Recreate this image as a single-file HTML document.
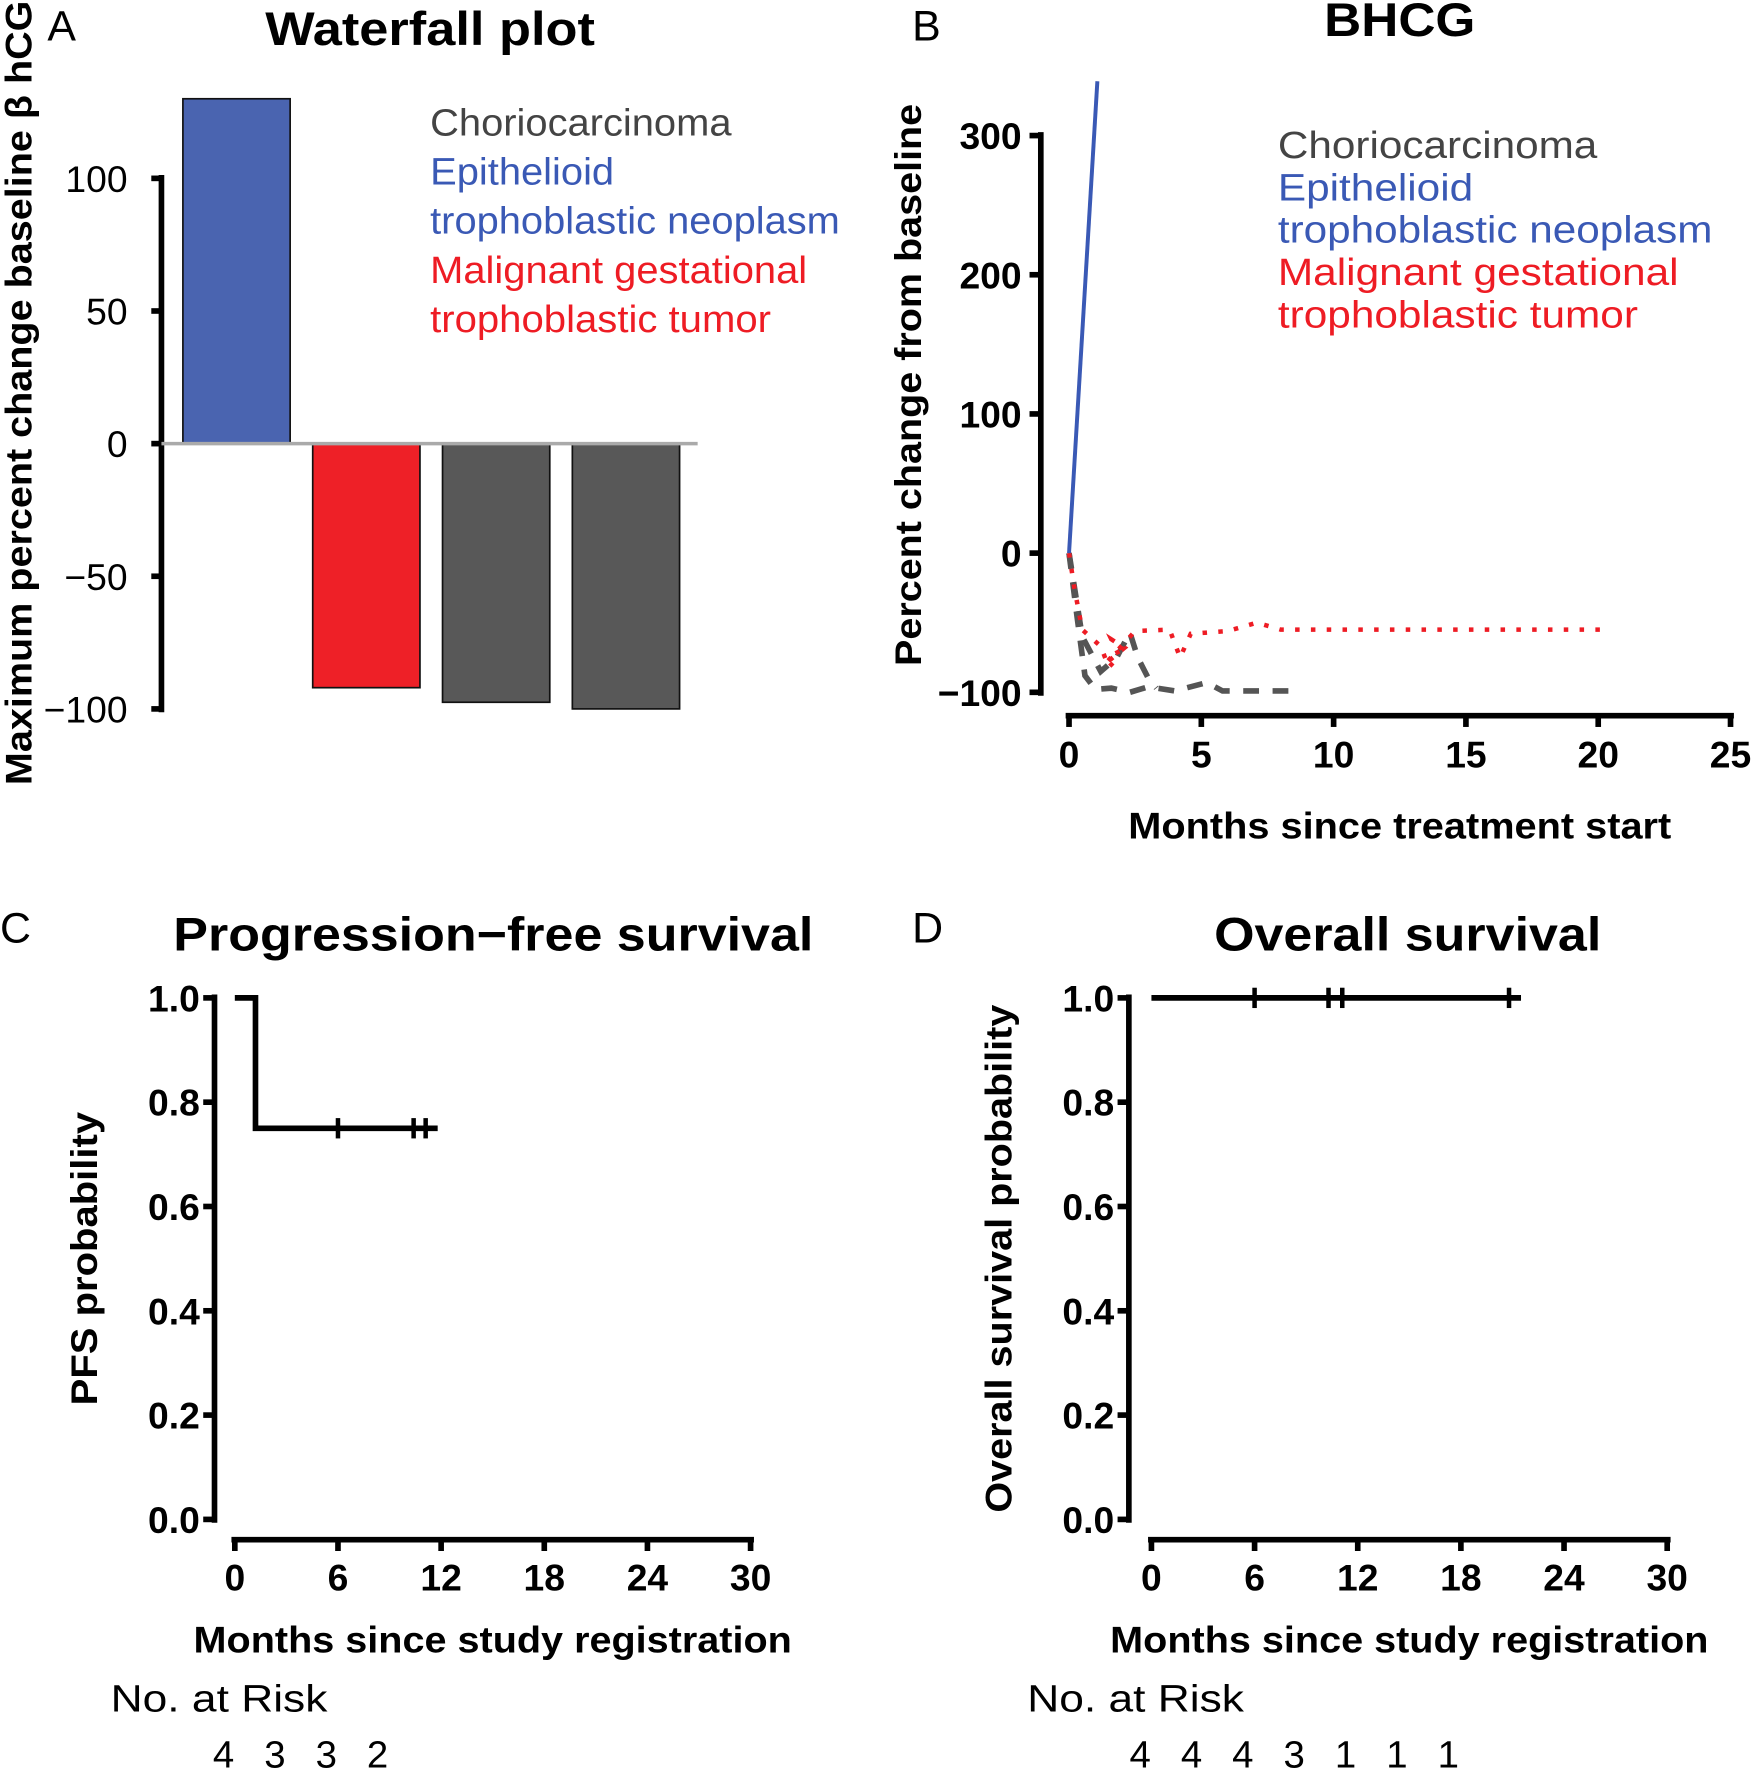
<!DOCTYPE html>
<html><head><meta charset="utf-8"><style>
html,body{margin:0;padding:0;background:#fff}
svg{display:block}
text{font-family:"Liberation Sans",Arial,sans-serif}
.b{font-weight:bold}
</style></head><body>
<svg id="fig" width="1752" height="1770" viewBox="0 0 1552 1568" xmlns="http://www.w3.org/2000/svg">
<g id="pa"></g>
<g id="pb"></g>
<g id="pc"></g>
<g id="pd"></g>
</svg>
<script>
// ---- Panel A data
const waterfallCategories = ["ETT", "MGTT", "Chorio 1", "Chorio 2"];
const waterfallValues = [130, -92, -97.5, -100];
const waterfallColors = ["#4a64b0", "#ee2027", "#585858", "#585858"];
const waterfallTicks = [100, 50, 0, -50, -100];
// ---- Panel B data
const bhcgTicksY = [300, 200, 100, 0, -100];
const bhcgTicksX = [0, 5, 10, 15, 20, 25];
const ettMonths = [0, 1.07];
const ettValues = [0, 339];
const mgttMonths = [0, 0.2, 0.5, 1.2, 1.5, 1.9, 1.6, 2.1, 1.35, 2.5, 3.8, 4.2, 4.6, 6.0, 7.1, 8.0, 20.3];
const mgttValues = [0, -25, -55, -67, -82, -74, -62, -68, -80, -56, -55, -75, -58, -56, -50, -55, -55];
const chorio1Months = [0, 0.3, 0.6, 1.0, 1.6, 2.3, 3.0, 4.0, 5.2, 5.8, 8.6];
const chorio1Values = [0, -45, -88, -98, -97, -100, -96, -99, -93, -99, -99];
const chorio2Months = [0, 0.5, 1.2, 1.8, 2.3, 2.6, 3.0, 3.3];
const chorio2Values = [0, -60, -85, -75, -57, -75, -90, -97];
// ---- Panel C/D data
const kmTicksX = [0, 6, 12, 18, 24, 30];
const kmTicksY = [1.0, 0.8, 0.6, 0.4, 0.2, 0.0];
const pfsTimes = [0, 1.2, 11.8];
const pfsSurv = [1.0, 0.75, 0.75];
const pfsCensor = [6, 10.4, 11.1];
const pfsRisk = [4, 3, 3, 2];
const osTimes = [0, 21.5];
const osSurv = [1.0, 1.0];
const osCensor = [6, 10.3, 11.1, 20.8];
const osRisk = [4, 4, 4, 3, 1, 1, 1];

const NS = "http://www.w3.org/2000/svg";
function mk(parent, tag, attrs, txt) {
  const e = document.createElementNS(NS, tag);
  for (const k in attrs) e.setAttribute(k, attrs[k]);
  if (txt !== undefined) e.textContent = txt;
  parent.appendChild(e);
  return e;
}
function fit(e, len){ e.setAttribute('textLength', len); e.setAttribute('lengthAdjust','spacingAndGlyphs'); }
function fmt(v){return v<0?"\u2212"+(-v):String(v);}

// ===== Panel A
(function(){
  const g = document.getElementById('pa');
  const ya = v => 393 - v * 2.35;
  let t;
  t = mk(g,'text',{x:42,y:36,'font-size':38},'A');
   
  t = mk(g,'text',{x:381,y:40,'font-size':42,'text-anchor':'middle',class:'b'},'Waterfall plot');
  fit(t,292);
   
  t = mk(g,'text',{x:0,y:0,'font-size':33,'text-anchor':'middle',class:'b',transform:'translate(28,348) rotate(-90)'},'Maximum percent change baseline \u03b2 hCG');
  fit(t,695);
   
  let ax = mk(g,'line',{x1:143,y1:ya(100)-3,x2:143,y2:ya(-100)+3,stroke:'#000','stroke-width':5});
   
  waterfallTicks.forEach(v=>{
    const l = mk(g,'line',{x1:134,y1:ya(v),x2:143,y2:ya(v),stroke:'#000','stroke-width':5});
     
    const tt = mk(g,'text',{x:113,y:ya(v)+12,'font-size':33,'text-anchor':'end'},fmt(v));
     
  });
  waterfallValues.forEach((v,i)=>{
    const x = 162 + i*115;
    const y0 = Math.min(ya(0), ya(v)), h = Math.abs(ya(v)-ya(0));
    const r = mk(g,'rect',{x:x,y:y0,width:95,height:h,fill:waterfallColors[i],stroke:'#111','stroke-width':1.5});
     
  });
  const z = mk(g,'line',{x1:143,y1:ya(0),x2:618,y2:ya(0),stroke:'#aaa','stroke-width':3});
   
  const leg = [["Choriocarcinoma","#444",267],["Epithelioid","#3a59b5",163],["trophoblastic neoplasm","#3a59b5",363],["Malignant gestational","#ee1c24",334],["trophoblastic tumor","#ee1c24",302]];
  leg.forEach((l,i)=>{
    const tt = mk(g,'text',{x:381,y:120+i*43.5,'font-size':34,fill:l[1]},l[0]);
    fit(tt,l[2]);
     
  });
})();

// ===== Panel B
(function(){
  const g = document.getElementById('pb');
  const xs = m => 947 + m*23.44, ys = v => 490 - v*1.233;
  let t;
  t = mk(g,'text',{x:808,y:36,'font-size':38},'B');
   
  t = mk(g,'text',{x:1240,y:32,'font-size':42,'text-anchor':'middle',class:'b'},'BHCG');
  fit(t,134);
   
  t = mk(g,'text',{x:0,y:0,'font-size':33,'text-anchor':'middle',class:'b',transform:'translate(816,341) rotate(-90)'},'Percent change from baseline');
  fit(t,498);
   
  t = mk(g,'text',{x:1240,y:743,'font-size':33,'text-anchor':'middle',class:'b'},'Months since treatment start');
  fit(t,481);
   
  let a = mk(g,'line',{x1:922,y1:ys(300)-3,x2:922,y2:ys(-100)+3,stroke:'#000','stroke-width':5});
   
  bhcgTicksY.forEach(v=>{
    const l = mk(g,'line',{x1:912,y1:ys(v),x2:922,y2:ys(v),stroke:'#000','stroke-width':5});
     
    const tt = mk(g,'text',{x:905,y:ys(v)+12,'font-size':33,'text-anchor':'end',class:'b'},fmt(v));
     
  });
  a = mk(g,'line',{x1:xs(0)-3,y1:634,x2:xs(25)+3,y2:634,stroke:'#000','stroke-width':5});
   
  bhcgTicksX.forEach(v=>{
    const l = mk(g,'line',{x1:xs(v),y1:634,x2:xs(v),y2:644,stroke:'#000','stroke-width':5});
     
    const tt = mk(g,'text',{x:xs(v),y:680,'font-size':33,'text-anchor':'middle',class:'b'},String(v));
     
  });
  function series(mx, vy, attrs, name){
    const d = mx.map((m,i)=>(i?'L':'M')+xs(m).toFixed(1)+','+ys(vy[i]).toFixed(1)).join(' ');
    const p = mk(g,'path',Object.assign({d:d,fill:'none'},attrs));
     
  }
  series(chorio1Months, chorio1Values, {stroke:'#555','stroke-width':5,'stroke-dasharray':'14,12'}, 'line-chorio-1');
  series(chorio2Months, chorio2Values, {stroke:'#555','stroke-width':5,'stroke-dasharray':'14,12'}, 'line-chorio-2');
  series(mgttMonths, mgttValues, {stroke:'#ee1c24','stroke-width':4,'stroke-dasharray':'4,10'}, 'line-mgtt');
  series(ettMonths, ettValues, {stroke:'#3a59b5','stroke-width':3.5}, 'line-ett');
  const leg = [["Choriocarcinoma","#444",283],["Epithelioid","#3a59b5",173],["trophoblastic neoplasm","#3a59b5",385],["Malignant gestational","#ee1c24",355],["trophoblastic tumor","#ee1c24",319]];
  leg.forEach((l,i)=>{
    const tt = mk(g,'text',{x:1132,y:140+i*37.5,'font-size':34,fill:l[1]},l[0]);
    fit(tt,l[2]);
     
  });
})();

// ===== KM panels
function km(gid, label, labelX, title, titleX, titleLen, yTitle, yTitleX, yTitleY, yTitleLen, yAxX, x0, times, surv, cens, risk, riskX0) {
  const g = document.getElementById(gid);
  const xs = m => x0 + m*15.23, ys = p => 1346 - p*462;
  let t;
  t = mk(g,'text',{x:labelX,y:835,'font-size':38},label);
   
  t = mk(g,'text',{x:titleX,y:842,'font-size':42,'text-anchor':'middle',class:'b'},title);
  fit(t,titleLen);
   
  t = mk(g,'text',{x:0,y:0,'font-size':33,'text-anchor':'middle',class:'b',transform:'translate('+yTitleX+','+yTitleY+') rotate(-90)'},yTitle);
  fit(t,yTitleLen);
   
  t = mk(g,'text',{x:xs(15),y:1464,'font-size':33,'text-anchor':'middle',class:'b'},'Months since study registration');
  fit(t,530);
   
  let a = mk(g,'line',{x1:yAxX,y1:ys(1)-3,x2:yAxX,y2:ys(0)+3,stroke:'#000','stroke-width':5});
   
  kmTicksY.forEach(v=>{
    const l = mk(g,'line',{x1:yAxX-10,y1:ys(v),x2:yAxX,y2:ys(v),stroke:'#000','stroke-width':5});
     
    const tt = mk(g,'text',{x:yAxX-13,y:ys(v)+12,'font-size':33,'text-anchor':'end',class:'b'},v.toFixed(1));
     
  });
  a = mk(g,'line',{x1:xs(0)-3,y1:1364,x2:xs(30)+3,y2:1364,stroke:'#000','stroke-width':5});
   
  kmTicksX.forEach(v=>{
    const l = mk(g,'line',{x1:xs(v),y1:1364,x2:xs(v),y2:1374,stroke:'#000','stroke-width':5});
     
    const tt = mk(g,'text',{x:xs(v),y:1409,'font-size':33,'text-anchor':'middle',class:'b'},String(v));
     
  });
  let d = 'M'+xs(times[0])+','+ys(surv[0]);
  for (let i=1;i<times.length;i++){ d += ' H'+xs(times[i]).toFixed(1)+' V'+ys(surv[i]).toFixed(1); }
  const p = mk(g,'path',{d:d,fill:'none',stroke:'#000','stroke-width':5});
   
  cens.forEach(c=>{
    let s = surv[0];
    for (let i=0;i<times.length;i++) if (times[i]<=c) s = surv[i];
    const l = mk(g,'line',{x1:xs(c),y1:ys(s)-9,x2:xs(c),y2:ys(s)+9,stroke:'#000','stroke-width':4});
     
  });
  t = mk(g,'text',{x:riskX0-100,y:1516,'font-size':34},'No. at Risk');
  fit(t,192);
   
  risk.forEach((r,i)=>{
    const tt = mk(g,'text',{x:riskX0+i*45.5,y:1566,'font-size':34,'text-anchor':'middle'},String(r));
     
  });
}
km('pc','C',0,'Progression\u2212free survival',437,567,'PFS probability',86,1115,260,190,208,pfsTimes,pfsSurv,pfsCensor,pfsRisk,198);
km('pd','D',808,'Overall survival',1247,343,'Overall survival probability',896,1115,450,1000,1020,osTimes,osSurv,osCensor,osRisk,1010);
</script>
</body></html>
